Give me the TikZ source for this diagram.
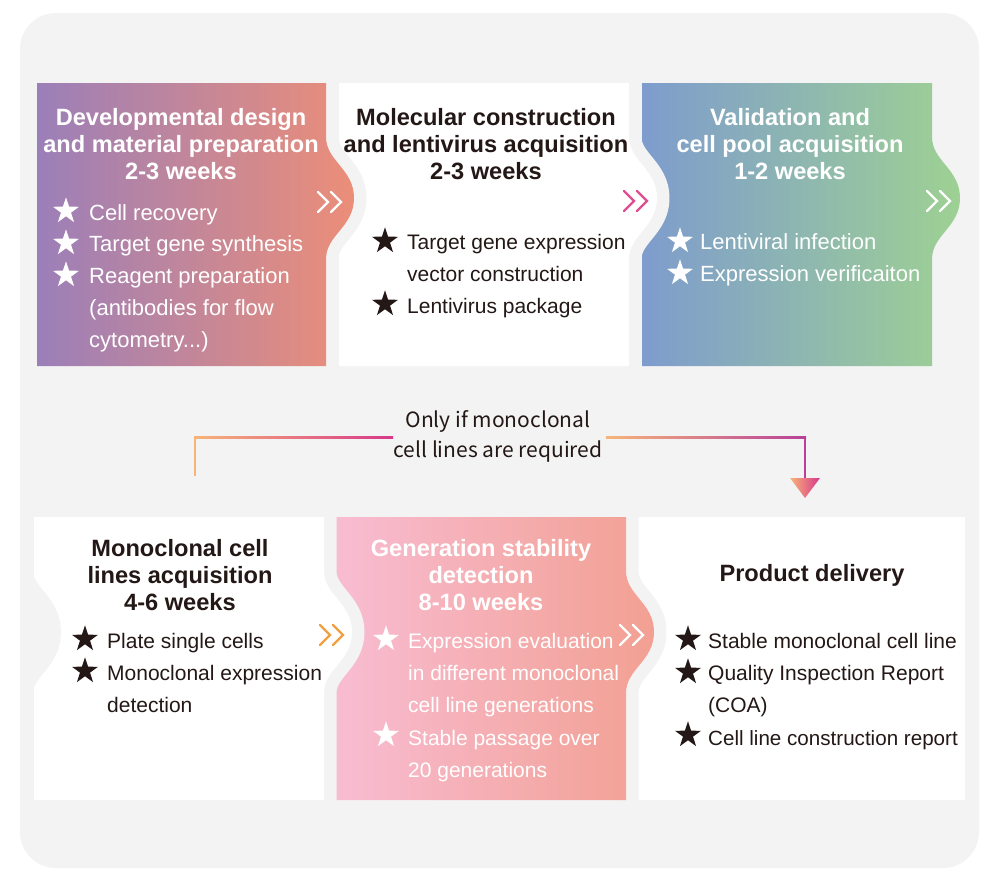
\documentclass[tikz,border=0pt]{standalone}
\usepackage{fontspec}
\setmainfont{Liberation Sans}
\newfontfamily\lblfont{Noto Sans CJK SC}
\usetikzlibrary{shapes.geometric}
\definecolor{bggray}{HTML}{F3F3F3}
\definecolor{txtblk}{HTML}{231815}
\definecolor{aL}{HTML}{9B7FB9}
\definecolor{aR}{HTML}{EC8E78}
\definecolor{cL}{HTML}{7E9CCD}
\definecolor{cR}{HTML}{9ED193}
\definecolor{eL}{HTML}{F8BCD2}
\definecolor{eR}{HTML}{F2A092}
\definecolor{lnor}{HTML}{F7B47A}
\definecolor{lnmag}{HTML}{D8388A}
\definecolor{lnpur}{HTML}{B8409A}
\definecolor{chpink}{HTML}{DF4D92}
\definecolor{chor}{HTML}{EFA040}
\tikzset{
  bumpbox/.style n args={4}{insert path={(#1,#2) -- (#3,#2) -- (#3,#2+54)
     .. controls (#3,#2+78) and (#3+28,#2+86) .. (#3+28,#2+115)
     .. controls (#3+28,#2+144) and (#3,#2+152) .. (#3,#2+176)
     -- (#3,#4) -- (#1,#4) -- cycle}},
  gapstroke/.style={draw=bggray, line width=25, line join=round},
  ttl/.style={font=\bfseries\fontsize{23.6}{27}\selectfont, align=center, anchor=base, inner sep=0},
  itm/.style={font=\fontsize{21}{32}\selectfont, align=left, anchor=base west, inner sep=0},
  itmw/.style={itm, font=\fontsize{22}{32}\selectfont},
  wt/.style={text=white},
  bk/.style={text=txtblk},
  starw/.style={star, star points=5, star point ratio=2.6, fill=white, inner sep=0, minimum size=27.5},
  stark/.style={star, star points=5, star point ratio=2.6, fill=txtblk, inner sep=0, minimum size=27.5},
  pics/dchev/.style={code={\draw[line width=2.4, line cap=round, line join=miter]
     (0,-10) -- (10,0) -- (0,10) (13,-10) -- (23,0) -- (13,10);}}
}
\begin{document}
\begin{tikzpicture}[x=1pt,y=-1pt]
\useasboundingbox (0,0) rectangle (1000,884);
\fill[white] (0,0) rectangle (1000,884);
\fill[bggray, rounded corners=36] (20,13) rectangle (979,868);

% ---------- top row ----------
\shade[left color=cL, right color=cR, bumpbox={642}{83}{932}{366}];
\path[gapstroke, bumpbox={339}{83}{629}{366}];
\fill[white, bumpbox={339}{83}{629}{366}];
\path[gapstroke, bumpbox={37}{83}{326}{366}];
\shade[left color=aL, right color=aR, bumpbox={37}{83}{326}{366}];

% ---------- bottom row ----------
\fill[white] (638,517) rectangle (965,800);
\path[gapstroke, bumpbox={336}{517}{626}{800}];
\shade[left color=eL, right color=eR, bumpbox={336}{517}{626}{800}];
\path[gapstroke, bumpbox={34}{517}{324}{800}];
\fill[white, bumpbox={34}{517}{324}{800}];
\begin{scope}
\clip[rounded corners=36] (20,13) rectangle (979,868);
\path[draw=bggray, fill=bggray, line width=25, line cap=round, line join=round]
  (20.5,571) .. controls (20.5,595) and (48.5,603) .. (48.5,632)
  .. controls (48.5,661) and (20.5,669) .. (20.5,693);
\end{scope}

% ---------- chevrons ----------
\pic[white] at (318,202) {dchev};
\pic[chpink] at (624,201) {dchev};
\pic[white] at (927,201) {dchev};
\pic[chor] at (320,635) {dchev};
\pic[white] at (620,635) {dchev};

% ---------- box 1 ----------
\node[ttl, wt] (t1) at (181,179) {Developmental design\\and material preparation\\2-3 weeks};
\node[starw] (s11) at (66,211) {};
\node[itmw, wt] (i11) at (89,220) {Cell recovery};
\node[starw] (s12) at (66,243) {};
\node[itmw, wt] (i12) at (89,251) {Target gene synthesis};
\node[starw] (s13) at (66,275) {};
\node[itmw, wt] (i13) at (89,347) {Reagent preparation\\(antibodies for flow\\cytometry...)};

% ---------- box 2 ----------
\node[ttl, bk] (t2) at (486,179) {Molecular construction\\and lentivirus acquisition\\2-3 weeks};
\node[stark] (s21) at (385,241) {};
\node[itm, bk] (i21) at (407,281) {Target gene expression\\vector construction};
\node[stark] (s22) at (385,304) {};
\node[itm, bk] (i22) at (407,313) {Lentivirus package};

% ---------- box 3 ----------
\node[ttl, wt] (t3) at (790,179) {Validation and\\cell pool acquisition\\1-2 weeks};
\node[starw] (s31) at (680,241) {};
\node[itmw, wt] (i31) at (700,249) {Lentiviral infection};
\node[starw] (s32) at (680,273) {};
\node[itmw, wt] (i32) at (700,281) {Expression verificaiton};

% ---------- box 4 ----------
\node[ttl, bk] (t4) at (180,610) {Monoclonal cell\\lines acquisition\\4-6 weeks};
\node[stark] (s41) at (85,639) {};
\node[itm, bk] (i41) at (107,648) {Plate single cells};
\node[stark] (s42) at (85,671) {};
\node[itm, bk] (i42) at (107,712) {Monoclonal expression\\detection};

% ---------- box 5 ----------
\node[ttl, wt] (t5) at (481,610) {Generation stability\\detection\\8-10 weeks};
\node[starw] (s51) at (386,639) {};
\node[itm, wt] (i51) at (408,712) {Expression evaluation\\in different monoclonal\\cell line generations};
\node[starw] (s52) at (386,735) {};
\node[itm, wt] (i52) at (408,777) {Stable passage over\\20 generations};

% ---------- box 6 ----------
\node[ttl, bk] (t6) at (812,581) {Product delivery};
\node[stark] (s61) at (688,639) {};
\node[itm, bk] (i61) at (708,648) {Stable monoclonal cell line};
\node[stark] (s62) at (688,672) {};
\node[itm, bk] (i62) at (708,712) {Quality Inspection Report\\(COA)};
\node[stark] (s63) at (688,735) {};
\node[itm, bk, font=\fontsize{20.6}{32}\selectfont] (i63) at (708,745) {Cell line construction report};

% ---------- conditional connector ----------
\node[font=\lblfont\fontsize{21}{30}\selectfont, align=center, text=txtblk, inner sep=0] (lbl) at (498,436) {Only if monoclonal\\cell lines are required};
\coordinate (cl0) at (195,476);
\coordinate (cl1) at (195,437);
\coordinate (cl2) at (393,437);
\coordinate (cr0) at (606,437);
\coordinate (cr1) at (805,437);
\coordinate (cr2) at (805,478);
\draw[lnor, line width=2] (cl0) -- ([yshift=-1pt]cl1);
\shade[left color=lnor, right color=lnmag] ([xshift=-1pt,yshift=1pt]cl1) rectangle ([yshift=-1pt]cl2);
\shade[left color=lnor, right color=lnpur] ([yshift=1pt]cr0) rectangle ([xshift=1pt,yshift=-1pt]cr1);
\draw[lnpur, line width=2] ([yshift=1pt]cr1) -- (cr2);
\shade[left color=lnor, right color=lnmag] ([xshift=-15pt]cr2) -- ([xshift=15pt]cr2) -- ([yshift=-20pt]cr2) -- cycle;
\end{tikzpicture}
\end{document}
